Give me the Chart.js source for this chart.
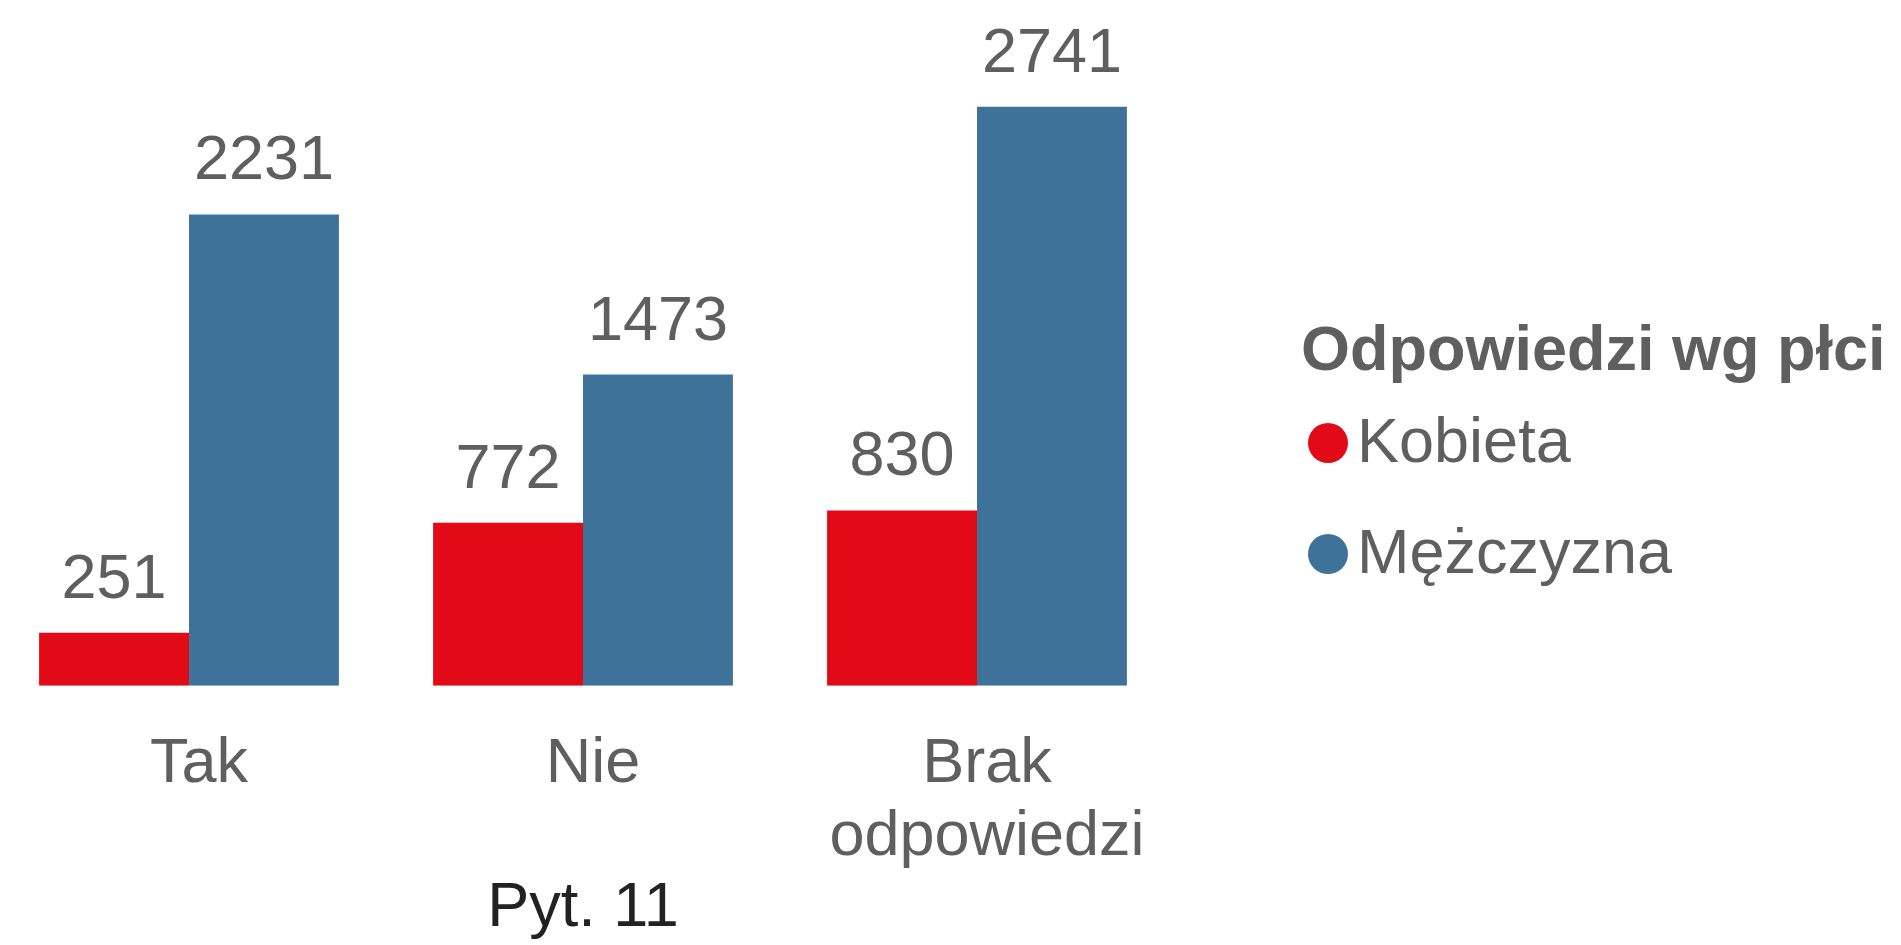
<!DOCTYPE html>
<html>
<head>
<meta charset="utf-8">
<script src="https://cdn.jsdelivr.net/npm/chart.js@4"></script>
<style>
    html, body { margin: 0; padding: 0; background: #fff; overflow: hidden; }
    #wrap { position: absolute; left: -10px; top: 0; width: 1911px; height: 945px; }
</style>
</head>
<body>
<div id="wrap"><canvas id="chart" width="1911" height="945"></canvas></div>
<script>
const categories = ['Tak', 'Nie', ['Brak', 'odpowiedzi']];
const seriesNames = ['Kobieta', 'Mężczyzna'];
const kobietaValues = [251, 772, 830];
const mezczyznaValues = [2231, 1473, 2741];
const seriesColors = ['#E30A17', '#3E7299'];
const axisTitle = 'Pyt. 11';
const legendTitle = 'Odpowiedzi wg płci';

const FONT = "'Liberation Sans', Arial, sans-serif";
const TEXT = '#5f5f5f';

// value labels above every bar
const valueLabels = {
    id: 'valueLabels',
    afterDatasetsDraw(chart) {
        const ctx = chart.ctx;
        ctx.save();
        ctx.font = `63px ${FONT}`;
        ctx.fillStyle = TEXT;
        ctx.textAlign = 'center';
        ctx.textBaseline = 'alphabetic';
        chart.data.datasets.forEach((ds, i) => {
            chart.getDatasetMeta(i).data.forEach((bar, j) => {
                ctx.fillText(String(ds.data[j]), bar.x, bar.y - 35);
            });
        });
        ctx.restore();
    }
};

// legend on the right: bold title, round markers
const sideLegend = {
    id: 'sideLegend',
    afterDraw(chart) {
        const ctx = chart.ctx;
        const x0 = 1311;
        ctx.save();
        ctx.fillStyle = TEXT;
        ctx.textAlign = 'left';
        ctx.textBaseline = 'alphabetic';
        ctx.font = `bold 63px ${FONT}`;
        ctx.fillText(legendTitle, x0, 370);
        ctx.font = `63px ${FONT}`;
        chart.data.datasets.forEach((ds, i) => {
            const base = 462 + i * 111;
            ctx.fillStyle = ds.backgroundColor;
            ctx.beginPath();
            ctx.arc(x0 + 27, base - 19, 20, 0, Math.PI * 2);
            ctx.fill();
            ctx.fillStyle = TEXT;
            ctx.fillText(ds.label, x0 + 56, base);
        });
        ctx.restore();
    }
};

new Chart(document.getElementById('chart'), {
    type: 'bar',
    data: {
        labels: categories,
        datasets: [
            { label: seriesNames[0], data: kobietaValues, backgroundColor: seriesColors[0] },
            { label: seriesNames[1], data: mezczyznaValues, backgroundColor: seriesColors[1] }
        ]
    },
    options: {
        responsive: false,
        animation: false,
        devicePixelRatio: 1,
        layout: { padding: { left: 2, right: 727, top: 52, bottom: 0 } },
        datasets: { bar: { categoryPercentage: 0.761, barPercentage: 1, borderWidth: 0 } },
        plugins: { legend: { display: false }, tooltip: { enabled: false } },
        scales: {
            x: {
                grid: { display: false, drawTicks: false },
                border: { display: false },
                ticks: {
                    color: TEXT,
                    font: { family: FONT, size: 63, lineHeight: 1.16 },
                    padding: 42,
                    labelOffset: 10,
                    maxRotation: 0,
                    autoSkip: false
                },
                title: {
                    display: true,
                    text: axisTitle,
                    color: '#222222',
                    font: { family: FONT, size: 63, lineHeight: 1.16 },
                    padding: { top: -44, bottom: 0 }
                }
            },
            y: {
                display: false,
                min: 0,
                max: 3000
            }
        }
    },
    plugins: [valueLabels, sideLegend]
});
</script>
</body>
</html>
